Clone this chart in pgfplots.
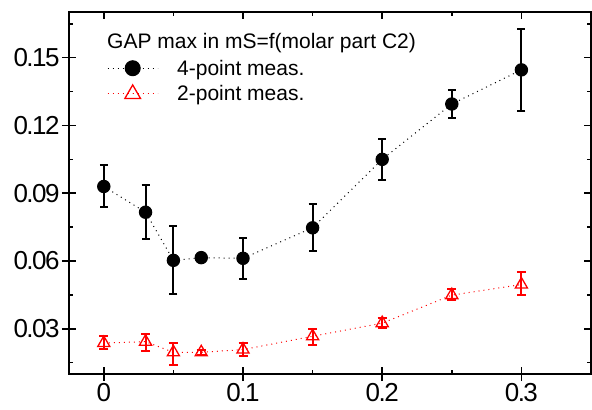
\documentclass[border=0pt]{standalone}
\usepackage{fontspec}
\setmainfont{Liberation Sans}
\newfontfamily\tickfont[LetterSpace=-6]{Liberation Sans}
\usepackage{pgfplots}
\pgfplotsset{compat=1.18}
\pgfplotstableread{
x y ep em
0 0.093 0.0097 0.0091
0.03 0.0816 0.0121 0.0117
0.05 0.0603 0.0154 0.0149
0.07 0.0615 0.0012 0.0012
0.1 0.0612 0.0091 0.0092
0.15 0.0747 0.0107 0.0104
0.2 0.105 0.0091 0.0092
0.25 0.1295 0.0063 0.006
0.3 0.1446 0.0183 0.0183
}\fourpt
\pgfplotstableread{
x y ep em
0 0.0237 0.0032 0.0026
0.03 0.0243 0.0035 0.0042
0.05 0.0196 0.0041 0.0056
0.07 0.0196 0.001 0.001
0.1 0.0208 0.0029 0.0027
0.15 0.0267 0.0032 0.0039
0.2 0.0325 0.0025 0.0023
0.25 0.0449 0.0026 0.0022
0.3 0.0496 0.0055 0.0045
}\twopt
\begin{document}
\begin{tikzpicture}
\useasboundingbox (-69bp,-36bp) rectangle (523bp,374bp);
\pgfplotsset{
  common/.style={
    at={(0,0)}, anchor=south west,
    scale only axis, width=522bp, height=361.5bp,
    xmin=-0.025, xmax=0.35, ymin=0.01, ymax=0.17,
    xtick={0,0.1,0.2,0.3}, ytick={0.03,0.06,0.09,0.12,0.15},
    major tick length=7bp,
    tick style={line width=1.5bp, black},
  }
}
\begin{axis}[common,
  axis line style={draw=none},
  xtick pos=left, ytick pos=left,
  tick align=outside,
  xticklabels={}, yticklabels={},
]
\end{axis}
\begin{axis}[common,
  minor xtick={0.05,0.15,0.25},
  minor ytick={0.015,0.045,0.075,0.105,0.135,0.165},
  tick align=inside, minor tick length=4bp,
  axis line style={line width=2bp},
  scaled y ticks=false, scaled x ticks=false,
  /pgf/number format/assume math mode=true,
  yticklabel style={/pgf/number format/fixed, /pgf/number format/precision=2, xshift=-6bp},
  xticklabel style={/pgf/number format/fixed, yshift=-6bp},
  tick label style={font=\tickfont\fontsize{26bp}{30bp}\selectfont},
  legend style={at={(0.0728,0.875)}, anchor=north west, draw=none, fill=none,
    font=\fontsize{21bp}{25bp}\selectfont, inner sep=0pt, row sep=5bp,
    /tikz/every odd column/.append style={column sep=17bp}},
  legend cell align=left,
  legend image code/.code={\draw[mark repeat=2,mark phase=2] plot coordinates {(0bp,0bp)(25bp,0bp)(50bp,0bp)};},
]
\addplot[black, line width=1bp, dash pattern=on 1bp off 4bp,
  mark=*, mark size=6.2bp, mark options={solid},
  legend image post style={mark size=7.5bp},
  error bars/.cd, y dir=both, y explicit,
  error bar style={line width=2bp, solid, black},
  error mark options={rotate=90, mark size=4bp, line width=2bp, solid, black}]
  table[x=x, y=y, y error plus=ep, y error minus=em]{\fourpt};
\addlegendentry{4-point meas.}
\addplot[red, line width=1bp, dash pattern=on 1bp off 4bp,
  mark=triangle, mark size=7bp, mark options={solid, line width=1.3bp},
  legend image post style={mark size=9bp},
  error bars/.cd, y dir=both, y explicit,
  error bar style={line width=2bp, solid, red},
  error mark options={rotate=90, mark size=4.5bp, line width=2bp, solid, red}]
  table[x=x, y=y, y error plus=ep, y error minus=em]{\twopt};
\addlegendentry{2-point meas.}
\node[anchor=west, inner sep=0pt, font=\fontsize{21bp}{25bp}\selectfont] at (rel axis cs:0.0728,0.9156) {GAP max in mS=f(molar part C2)};
\end{axis}
\end{tikzpicture}
\end{document}
